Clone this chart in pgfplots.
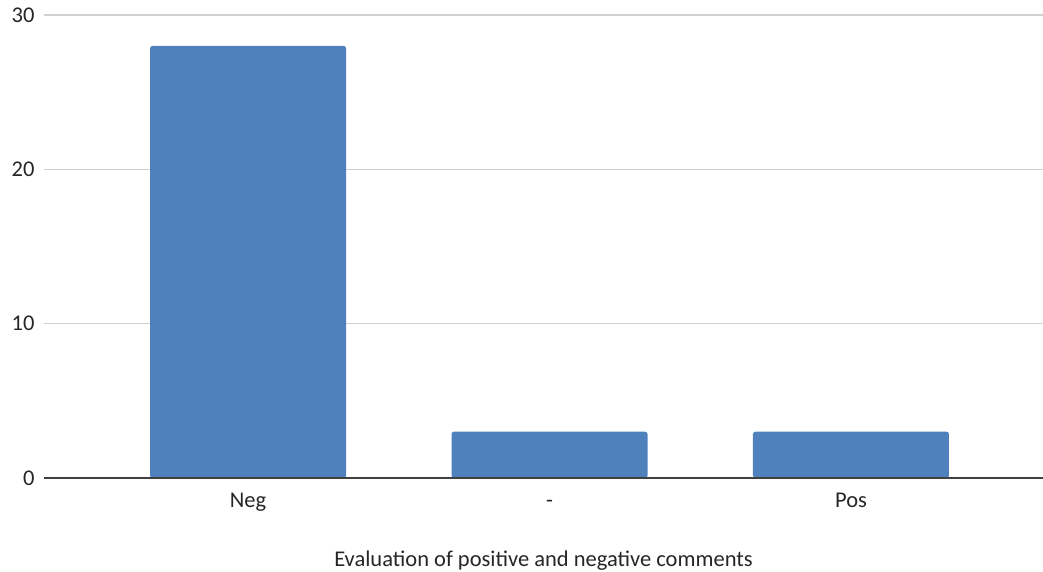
\documentclass[border=0pt]{standalone}
\usepackage{pgfplots}
\pgfplotsset{compat=1.18}
\usepackage{fontspec}
\setmainfont{Carlito}
\definecolor{barblue}{HTML}{4F81BD}
\definecolor{gridgray}{HTML}{D0D0D0}
\definecolor{axisgray}{HTML}{404040}
\definecolor{txt}{HTML}{262626}
\begin{document}
\begin{tikzpicture}
\useasboundingbox (-44pt,-93pt) rectangle (999pt,478pt);
\begin{axis}[
  at={(0pt,0pt)}, anchor=south west,
  scale only axis,
  width=999pt, height=463pt,
  xmin=-0.677, xmax=2.637,
  ymin=0, ymax=30,
  axis line style={draw=none},
  ytick={0,10,20,30},
  xtick={0,1,2},
  xticklabels={\strut Neg,\strut -,\strut Pos},
  major tick length=0pt,
  ymajorgrids,
  grid style={gridgray, line width=1.3pt},
  tick label style={font=\fontsize{22.5}{27}\selectfont, text=txt},
  yticklabel style={xshift=-6pt},
  xticklabel style={yshift=-7pt},
  xlabel={Evaluation of positive and negative comments},
  xlabel style={font=\fontsize{22.5}{27}\selectfont, text=txt, yshift=-28pt},
  /pgf/number format/assume math mode=true,
  clip=false,
]
\addplot[ybar, bar width=196pt, fill=barblue, draw=none, rounded corners=2.5pt] coordinates {(0,28) (1,3) (2,3)};
\draw[axisgray, line width=2pt] (axis cs:-0.677,0) -- (axis cs:2.637,0);
\end{axis}
\end{tikzpicture}
\end{document}
